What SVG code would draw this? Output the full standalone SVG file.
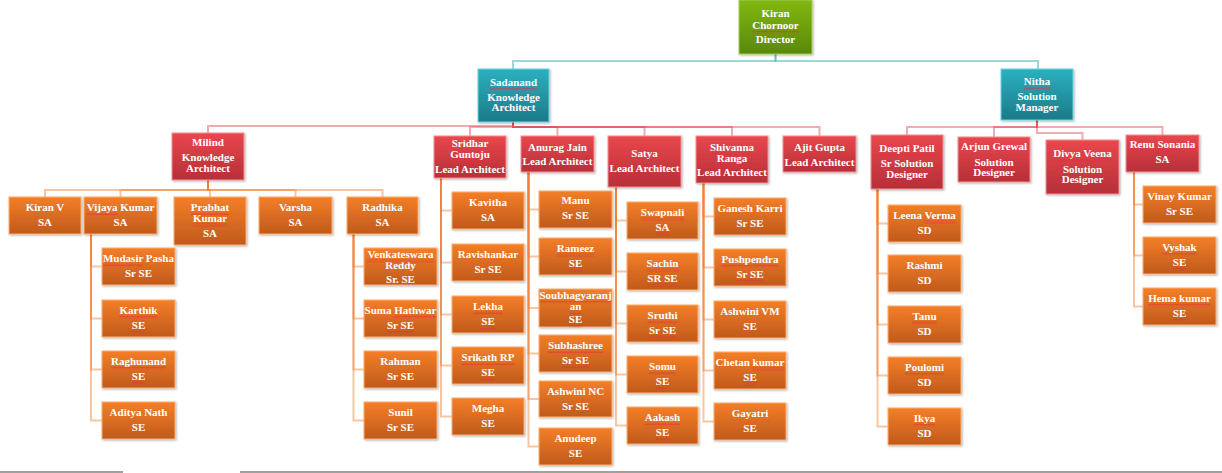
<svg xmlns="http://www.w3.org/2000/svg" width="1222" height="473" viewBox="0 0 1222 473">
<defs>
<linearGradient id="gG" x1="0" y1="0" x2="0" y2="1"><stop offset="0" stop-color="#82b812"/><stop offset="1" stop-color="#5a8806"/></linearGradient>
<linearGradient id="gT" x1="0" y1="0" x2="0" y2="1"><stop offset="0" stop-color="#2cb0c0"/><stop offset="1" stop-color="#1c7a88"/></linearGradient>
<linearGradient id="gR" x1="0" y1="0" x2="0" y2="1"><stop offset="0" stop-color="#e9474d"/><stop offset="1" stop-color="#b62f38"/></linearGradient>
<linearGradient id="gO" x1="0" y1="0" x2="0" y2="1"><stop offset="0" stop-color="#f47e28"/><stop offset="1" stop-color="#c05a1c"/></linearGradient>
<filter id="sh" x="-10%" y="-10%" width="130%" height="130%"><feDropShadow dx="1" dy="1" stdDeviation="0.8" flood-color="#000" flood-opacity="0.3"/></filter>
<pattern id="sq" width="4" height="3" patternUnits="userSpaceOnUse"><path d="M0,2.5L1,0.5L2,2.5L3,0.5L4,2.5" fill="none" stroke="#e8303a" stroke-width="0.6" stroke-opacity="0.85"/></pattern>
</defs>
<style>
.b{filter:url(#sh);stroke-width:1}
.g{fill:url(#gG);stroke:#a3cc5a}
.t{fill:url(#gT);stroke:#6fd3df}
.r{fill:url(#gR);stroke:#f29296}
.o{fill:url(#gO);stroke:#fbb070}
text{font-family:"Liberation Serif","Times New Roman",serif;font-weight:bold;font-size:11px;fill:#fff;text-anchor:middle}
.ct{fill:none;stroke:#2aa3b3;stroke-opacity:.45;stroke-width:2}
.cr{fill:none;stroke:#dc4a50;stroke-opacity:.45;stroke-width:2}
.co{fill:none;stroke:#ef7c30;stroke-opacity:.45;stroke-width:2}
.gl{stroke:#a0a0a0;stroke-width:2}
.sq{fill:url(#sq)}
</style>
<rect width="1222" height="473" fill="#fff"/>
<g id="connectors">
<path class="ct" d="M775.5,54V61H513V69"/>
<path class="ct" d="M775.5,54V61H1038V69"/>
<path class="cr" d="M513,122V126H208V133"/>
<path class="cr" d="M513,122V127H470V136"/>
<path class="cr" d="M513,122V127H557.5V136"/>
<path class="cr" d="M513,122V127H644.5V136"/>
<path class="cr" d="M513,122V127H732V136"/>
<path class="cr" d="M513,122V127H819.5V136"/>
<path class="cr" d="M1037,120V127H907V135"/>
<path class="cr" d="M1037,120V127H994V137"/>
<path class="cr" d="M1037,120V133H1082.5V140"/>
<path class="cr" d="M1037,120V127H1162.5V135"/>
<path class="co" d="M208,180V190H45V197"/>
<path class="co" d="M208,180V190H120.5V197"/>
<path class="co" d="M208,180V190H210V197"/>
<path class="co" d="M208,180V190H295.5V197"/>
<path class="co" d="M208,180V190H382.5V197"/>
<path class="co" d="M91,234V266.5H102"/>
<path class="co" d="M91,234V318.5H102"/>
<path class="co" d="M91,234V369.5H102"/>
<path class="co" d="M91,234V420.5H102"/>
<path class="co" d="M353.5,234V266.5H364"/>
<path class="co" d="M353.5,234V318.5H364"/>
<path class="co" d="M353.5,234V369.5H364"/>
<path class="co" d="M353.5,234V420.5H364"/>
<path class="co" d="M441,178V210.5H452"/>
<path class="co" d="M441,178V262.5H452"/>
<path class="co" d="M441,178V314.5H452"/>
<path class="co" d="M441,178V365.5H452"/>
<path class="co" d="M441,178V416.5H452"/>
<path class="co" d="M528.5,172V209.5H539"/>
<path class="co" d="M528.5,172V256.5H539"/>
<path class="co" d="M528.5,172V308H539"/>
<path class="co" d="M528.5,172V353.5H539"/>
<path class="co" d="M528.5,172V399H539"/>
<path class="co" d="M528.5,172V446.5H539"/>
<path class="co" d="M616,187V220.5H627"/>
<path class="co" d="M616,187V271.5H627"/>
<path class="co" d="M616,187V323.5H627"/>
<path class="co" d="M616,187V374.5H627"/>
<path class="co" d="M616,187V425.5H627"/>
<path class="co" d="M703.5,183V216.5H714"/>
<path class="co" d="M703.5,183V267.5H714"/>
<path class="co" d="M703.5,183V319.5H714"/>
<path class="co" d="M703.5,183V370.5H714"/>
<path class="co" d="M703.5,183V421.5H714"/>
<path class="co" d="M877.5,189V223.5H888"/>
<path class="co" d="M877.5,189V273.5H888"/>
<path class="co" d="M877.5,189V324.5H888"/>
<path class="co" d="M877.5,189V375.5H888"/>
<path class="co" d="M877.5,189V426.5H888"/>
<path class="co" d="M1134,172V204.5H1143"/>
<path class="co" d="M1134,172V255.5H1143"/>
<path class="co" d="M1134,172V306.5H1143"/>
</g>
<g id="n-kiran"><rect class="b g" x="739" y="0" width="73" height="54"/><text><tspan x="775.5" y="17">Kiran</tspan><tspan x="775.5" y="29">Chornoor</tspan><tspan x="775.5" y="43">Director</tspan></text><rect class="sq" x="752.3" y="30.5" width="46.4" height="3"/></g>
<g id="n-sadanand"><rect class="b t" x="478" y="69" width="71" height="53"/><text><tspan x="513.5" y="86">Sadanand</tspan><tspan x="513.5" y="101">Knowledge</tspan><tspan x="513.5" y="111">Architect</tspan></text><rect class="sq" x="490" y="87.5" width="47.1" height="3"/></g>
<g id="n-nitha"><rect class="b t" x="1001" y="69" width="72" height="51"/><text><tspan x="1037" y="85">Nitha</tspan><tspan x="1037" y="100">Solution</tspan><tspan x="1037" y="111">Manager</tspan></text><rect class="sq" x="1023.9" y="86.5" width="26.3" height="3"/></g>
<g id="n-milind"><rect class="b r" x="172" y="133" width="72" height="47"/><text><tspan x="208" y="146">Milind</tspan><tspan x="208" y="161">Knowledge</tspan><tspan x="208" y="172">Architect</tspan></text></g>
<g id="n-sridhar"><rect class="b r" x="434" y="136" width="72" height="42"/><text><tspan x="470" y="147">Sridhar</tspan><tspan x="470" y="158">Guntoju</tspan><tspan x="470" y="173">Lead Architect</tspan></text><rect class="sq" x="450.2" y="159.5" width="39.7" height="3"/></g>
<g id="n-anurag"><rect class="b r" x="521" y="136" width="73" height="36"/><text><tspan x="557.5" y="151">Anurag Jain</tspan><tspan x="557.5" y="165">Lead Architect</tspan></text></g>
<g id="n-satya"><rect class="b r" x="608" y="136" width="73" height="51"/><text><tspan x="644.5" y="157">Satya</tspan><tspan x="644.5" y="172">Lead Architect</tspan></text></g>
<g id="n-shivanna"><rect class="b r" x="696" y="136" width="72" height="47"/><text><tspan x="732" y="151">Shivanna</tspan><tspan x="732" y="162">Ranga</tspan><tspan x="732" y="176">Lead Architect</tspan></text><rect class="sq" x="710" y="152.5" width="44" height="3"/><rect class="sq" x="716.7" y="163.5" width="30.6" height="3"/></g>
<g id="n-ajit"><rect class="b r" x="783" y="136" width="73" height="36"/><text><tspan x="819.5" y="151">Ajit Gupta</tspan><tspan x="819.5" y="166">Lead Architect</tspan></text><rect class="sq" x="794" y="152.5" width="18.3" height="3"/></g>
<g id="n-deepti"><rect class="b r" x="871" y="135" width="72" height="54"/><text><tspan x="907" y="152">Deepti Patil</tspan><tspan x="907" y="167">Sr Solution</tspan><tspan x="907" y="178">Designer</tspan></text><rect class="sq" x="879.4" y="153.5" width="55.3" height="3"/></g>
<g id="n-arjun"><rect class="b r" x="958" y="137" width="72" height="45"/><text><tspan x="994" y="150">Arjun Grewal</tspan><tspan x="994" y="166">Solution</tspan><tspan x="994" y="176">Designer</tspan></text></g>
<g id="n-divya"><rect class="b r" x="1046" y="140" width="73" height="54"/><text><tspan x="1082.5" y="157">Divya Veena</tspan><tspan x="1082.5" y="173">Solution</tspan><tspan x="1082.5" y="183">Designer</tspan></text><rect class="sq" x="1052.7" y="158.5" width="59.6" height="3"/></g>
<g id="n-renu"><rect class="b r" x="1126" y="135" width="73" height="37"/><text><tspan x="1162.5" y="148">Renu Sonania</tspan><tspan x="1162.5" y="163">SA</tspan></text><rect class="sq" x="1129.7" y="149.5" width="65.7" height="3"/></g>
<g id="n-kiranv"><rect class="b o" x="9" y="197" width="72" height="37"/><text><tspan x="45" y="211">Kiran V</tspan><tspan x="45" y="226">SA</tspan></text></g>
<g id="n-vijaya"><rect class="b o" x="84" y="197" width="73" height="37"/><text><tspan x="120.5" y="211">Vijaya Kumar</tspan><tspan x="120.5" y="226">SA</tspan></text><rect class="sq" x="86.4" y="212.5" width="31.2" height="3"/></g>
<g id="n-prabhat"><rect class="b o" x="174" y="197" width="72" height="48"/><text><tspan x="210" y="211">Prabhat</tspan><tspan x="210" y="222">Kumar</tspan><tspan x="210" y="237">SA</tspan></text><rect class="sq" x="190.8" y="212.5" width="38.5" height="3"/><rect class="sq" x="192.9" y="223.5" width="34.2" height="3"/></g>
<g id="n-varsha"><rect class="b o" x="259" y="197" width="73" height="37"/><text><tspan x="295.5" y="211">Varsha</tspan><tspan x="295.5" y="226">SA</tspan></text></g>
<g id="n-radhika"><rect class="b o" x="347" y="197" width="71" height="37"/><text><tspan x="382.5" y="211">Radhika</tspan><tspan x="382.5" y="226">SA</tspan></text></g>
<g id="n-mudasir"><rect class="b o" x="102" y="248" width="73" height="37"/><text><tspan x="138.5" y="262">Mudasir Pasha</tspan><tspan x="138.5" y="277">Sr SE</tspan></text><rect class="sq" x="102.9" y="263.5" width="40.3" height="3"/></g>
<g id="n-karthik"><rect class="b o" x="102" y="300" width="73" height="37"/><text><tspan x="138.5" y="314">Karthik</tspan><tspan x="138.5" y="329">SE</tspan></text><rect class="sq" x="119.5" y="315.5" width="37.9" height="3"/><rect class="sq" x="131.7" y="330.5" width="13.5" height="3"/></g>
<g id="n-raghunand"><rect class="b o" x="102" y="351" width="73" height="37"/><text><tspan x="138.5" y="365">Raghunand</tspan><tspan x="138.5" y="380">SE</tspan></text><rect class="sq" x="111" y="366.5" width="55" height="3"/><rect class="sq" x="131.7" y="381.5" width="13.5" height="3"/></g>
<g id="n-aditya"><rect class="b o" x="102" y="402" width="73" height="37"/><text><tspan x="138.5" y="416">Aditya Nath</tspan><tspan x="138.5" y="431">SE</tspan></text></g>
<g id="n-venkat"><rect class="b o" x="364" y="248" width="73" height="37"/><text><tspan x="400.5" y="258">Venkateswara</tspan><tspan x="400.5" y="269">Reddy</tspan><tspan x="400.5" y="283">Sr. SE</tspan></text><rect class="sq" x="366.9" y="259.5" width="67.2" height="3"/></g>
<g id="n-suma"><rect class="b o" x="364" y="300" width="73" height="37"/><text><tspan x="400.5" y="314">Suma Hathwar</tspan><tspan x="400.5" y="329">Sr SE</tspan></text><rect class="sq" x="394.2" y="315.5" width="42.2" height="3"/><rect class="sq" x="386.9" y="330.5" width="27.2" height="3"/></g>
<g id="n-rahman"><rect class="b o" x="364" y="351" width="73" height="37"/><text><tspan x="400.5" y="365">Rahman</tspan><tspan x="400.5" y="380">Sr SE</tspan></text></g>
<g id="n-sunil"><rect class="b o" x="364" y="402" width="73" height="37"/><text><tspan x="400.5" y="416">Sunil</tspan><tspan x="400.5" y="431">Sr SE</tspan></text></g>
<g id="n-kavitha"><rect class="b o" x="452" y="192" width="72" height="37"/><text><tspan x="488" y="206">Kavitha</tspan><tspan x="488" y="221">SA</tspan></text></g>
<g id="n-ravi"><rect class="b o" x="452" y="244" width="72" height="37"/><text><tspan x="488" y="258">Ravishankar</tspan><tspan x="488" y="273">Sr SE</tspan></text></g>
<g id="n-lekha"><rect class="b o" x="452" y="296" width="72" height="37"/><text><tspan x="488" y="310">Lekha</tspan><tspan x="488" y="325">SE</tspan></text><rect class="sq" x="473" y="311.5" width="30" height="3"/><rect class="sq" x="481.2" y="326.5" width="13.5" height="3"/></g>
<g id="n-srikath"><rect class="b o" x="452" y="347" width="72" height="37"/><text><tspan x="488" y="361">Srikath RP</tspan><tspan x="488" y="376">SE</tspan></text><rect class="sq" x="461.5" y="362.5" width="52.9" height="3"/><rect class="sq" x="481.2" y="377.5" width="13.5" height="3"/></g>
<g id="n-megha"><rect class="b o" x="452" y="398" width="72" height="37"/><text><tspan x="488" y="412">Megha</tspan><tspan x="488" y="427">SE</tspan></text></g>
<g id="n-manu"><rect class="b o" x="539" y="191" width="73" height="37"/><text><tspan x="575.5" y="204">Manu</tspan><tspan x="575.5" y="219">Sr SE</tspan></text></g>
<g id="n-rameez"><rect class="b o" x="539" y="238" width="73" height="37"/><text><tspan x="575.5" y="252">Rameez</tspan><tspan x="575.5" y="267">SE</tspan></text><rect class="sq" x="556.8" y="253.5" width="37.3" height="3"/><rect class="sq" x="568.7" y="268.5" width="13.5" height="3"/></g>
<g id="n-soubh"><rect class="b o" x="539" y="289" width="73" height="38"/><text><tspan x="575.5" y="299">Soubhagyaranj</tspan><tspan x="575.5" y="310">an</tspan><tspan x="575.5" y="323">SE</tspan></text><rect class="sq" x="539.4" y="300.5" width="72.1" height="3"/><rect class="sq" x="569.7" y="311.5" width="11.6" height="3"/><rect class="sq" x="568.7" y="324.5" width="13.5" height="3"/></g>
<g id="n-subha"><rect class="b o" x="539" y="335" width="73" height="37"/><text><tspan x="575.5" y="349">Subhashree</tspan><tspan x="575.5" y="364">Sr SE</tspan></text><rect class="sq" x="548" y="350.5" width="55" height="3"/><rect class="sq" x="561.9" y="365.5" width="27.2" height="3"/></g>
<g id="n-ashwininc"><rect class="b o" x="539" y="381" width="73" height="36"/><text><tspan x="575.5" y="395">Ashwini NC</tspan><tspan x="575.5" y="410">Sr SE</tspan></text></g>
<g id="n-anudeep"><rect class="b o" x="539" y="428" width="73" height="37"/><text><tspan x="575.5" y="442">Anudeep</tspan><tspan x="575.5" y="457">SE</tspan></text></g>
<g id="n-swapnali"><rect class="b o" x="627" y="202" width="71" height="37"/><text><tspan x="662.5" y="216">Swapnali</tspan><tspan x="662.5" y="231">SA</tspan></text><rect class="sq" x="640.8" y="217.5" width="43.4" height="3"/><rect class="sq" x="655.5" y="232.5" width="14.1" height="3"/></g>
<g id="n-sachin"><rect class="b o" x="627" y="253" width="71" height="37"/><text><tspan x="662.5" y="267">Sachin</tspan><tspan x="662.5" y="282">SR SE</tspan></text><rect class="sq" x="646.6" y="268.5" width="31.8" height="3"/><rect class="sq" x="647.4" y="283.5" width="30.3" height="3"/></g>
<g id="n-sruthi"><rect class="b o" x="627" y="305" width="71" height="37"/><text><tspan x="662.5" y="319">Sruthi</tspan><tspan x="662.5" y="334">Sr SE</tspan></text><rect class="sq" x="647.5" y="320.5" width="30" height="3"/><rect class="sq" x="648.9" y="335.5" width="27.2" height="3"/></g>
<g id="n-somu"><rect class="b o" x="627" y="356" width="71" height="37"/><text><tspan x="662.5" y="370">Somu</tspan><tspan x="662.5" y="385">SE</tspan></text><rect class="sq" x="649" y="371.5" width="26.9" height="3"/><rect class="sq" x="655.7" y="386.5" width="13.5" height="3"/></g>
<g id="n-aakash"><rect class="b o" x="627" y="407" width="71" height="37"/><text><tspan x="662.5" y="421">Aakash</tspan><tspan x="662.5" y="436">SE</tspan></text><rect class="sq" x="644.7" y="422.5" width="35.5" height="3"/><rect class="sq" x="655.7" y="437.5" width="13.5" height="3"/></g>
<g id="n-ganesh"><rect class="b o" x="714" y="198" width="72" height="37"/><text><tspan x="750" y="212">Ganesh Karri</tspan><tspan x="750" y="227">Sr SE</tspan></text></g>
<g id="n-push"><rect class="b o" x="714" y="249" width="72" height="37"/><text><tspan x="750" y="263">Pushpendra</tspan><tspan x="750" y="278">Sr SE</tspan></text><rect class="sq" x="721.6" y="264.5" width="56.8" height="3"/><rect class="sq" x="736.4" y="279.5" width="27.2" height="3"/></g>
<g id="n-ashwinivm"><rect class="b o" x="714" y="301" width="72" height="37"/><text><tspan x="750" y="315">Ashwini VM</tspan><tspan x="750" y="330">SE</tspan></text></g>
<g id="n-chetan"><rect class="b o" x="714" y="352" width="72" height="37"/><text><tspan x="750" y="366">Chetan kumar</tspan><tspan x="750" y="381">SE</tspan></text><rect class="sq" x="752.6" y="367.5" width="31.8" height="3"/><rect class="sq" x="743.2" y="382.5" width="13.5" height="3"/></g>
<g id="n-gayatri"><rect class="b o" x="714" y="403" width="72" height="37"/><text><tspan x="750" y="417">Gayatri</tspan><tspan x="750" y="432">SE</tspan></text></g>
<g id="n-leena"><rect class="b o" x="888" y="205" width="73" height="37"/><text><tspan x="924.5" y="219">Leena Verma</tspan><tspan x="924.5" y="234">SD</tspan></text><rect class="sq" x="924.1" y="220.5" width="32.4" height="3"/></g>
<g id="n-rashmi"><rect class="b o" x="888" y="255" width="73" height="37"/><text><tspan x="924.5" y="269">Rashmi</tspan><tspan x="924.5" y="284">SD</tspan></text></g>
<g id="n-tanu"><rect class="b o" x="888" y="306" width="73" height="37"/><text><tspan x="924.5" y="320">Tanu</tspan><tspan x="924.5" y="335">SD</tspan></text><rect class="sq" x="912" y="321.5" width="25" height="3"/></g>
<g id="n-poulomi"><rect class="b o" x="888" y="357" width="73" height="37"/><text><tspan x="924.5" y="371">Poulomi</tspan><tspan x="924.5" y="386">SD</tspan></text><rect class="sq" x="905" y="372.5" width="39.1" height="3"/></g>
<g id="n-ikya"><rect class="b o" x="888" y="408" width="73" height="37"/><text><tspan x="924.5" y="422">Ikya</tspan><tspan x="924.5" y="437">SD</tspan></text><rect class="sq" x="913.8" y="423.5" width="21.4" height="3"/></g>
<g id="n-vinay"><rect class="b o" x="1143" y="186" width="73" height="37"/><text><tspan x="1179.5" y="200">Vinay Kumar</tspan><tspan x="1179.5" y="215">Sr SE</tspan></text></g>
<g id="n-vyshak"><rect class="b o" x="1143" y="237" width="73" height="37"/><text><tspan x="1179.5" y="251">Vyshak</tspan><tspan x="1179.5" y="266">SE</tspan></text><rect class="sq" x="1161.7" y="252.5" width="35.5" height="3"/><rect class="sq" x="1172.7" y="267.5" width="13.5" height="3"/></g>
<g id="n-hema"><rect class="b o" x="1143" y="288" width="73" height="37"/><text><tspan x="1179.5" y="302">Hema kumar</tspan><tspan x="1179.5" y="317">SE</tspan></text><rect class="sq" x="1148.2" y="303.5" width="62.6" height="3"/><rect class="sq" x="1172.7" y="318.5" width="13.5" height="3"/></g>
<line class="gl" x1="0" y1="472" x2="123" y2="472"/>
<line class="gl" x1="240" y1="472" x2="1222" y2="472"/>
</svg>
